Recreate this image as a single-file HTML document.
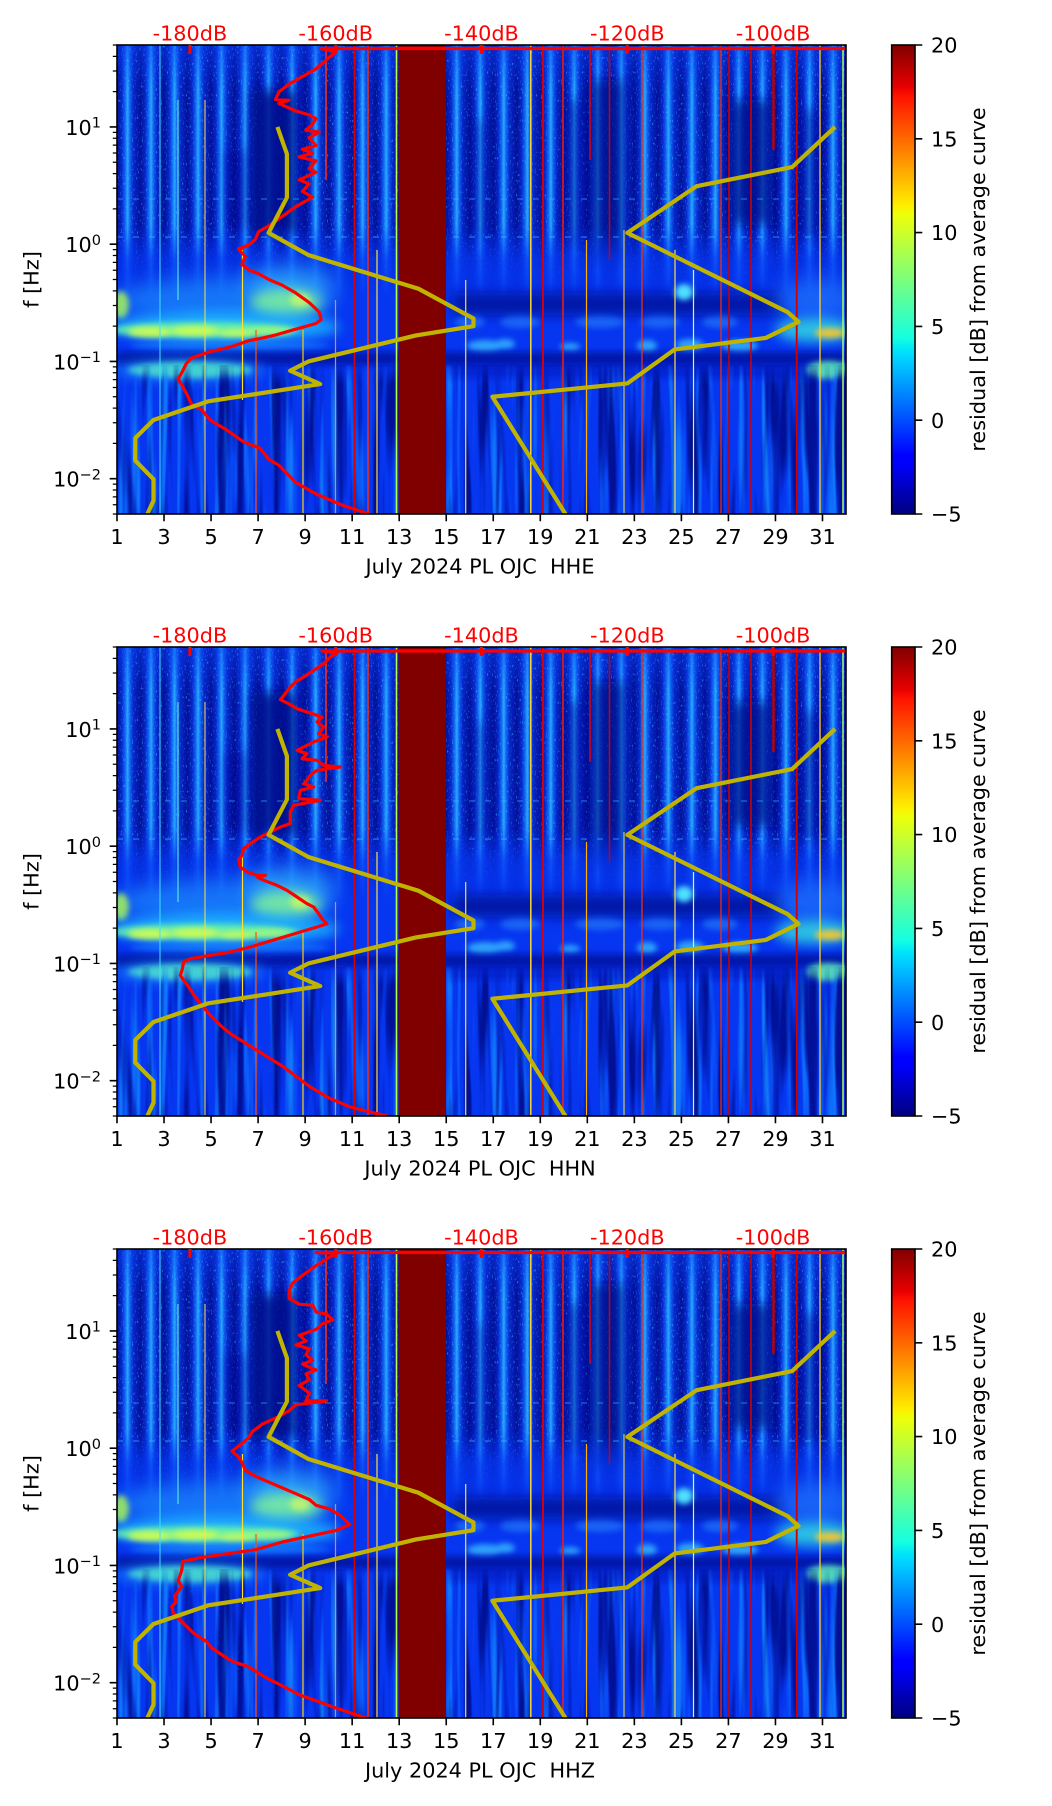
<!DOCTYPE html>
<html><head><meta charset="utf-8">
<style>
html,body{margin:0;padding:0;background:#fff;}
svg{display:block;}
text{font-family:"DejaVu Sans","Liberation Sans",sans-serif;}
</style></head>
<body>
<svg xmlns="http://www.w3.org/2000/svg" xmlns:xlink="http://www.w3.org/1999/xlink" width="1052" height="1806" viewBox="0 0 1052 1806">
<defs>
  <clipPath id="pc"><rect x="117" y="45" width="729" height="469"/></clipPath>
  <linearGradient id="jet" x1="0" y1="1" x2="0" y2="0">
    <stop offset="0" stop-color="#000080"/>
    <stop offset="0.11" stop-color="#0000ff"/>
    <stop offset="0.125" stop-color="#0000ff"/>
    <stop offset="0.34" stop-color="#00dbff"/>
    <stop offset="0.35" stop-color="#00e5f8"/>
    <stop offset="0.375" stop-color="#14ffe2"/>
    <stop offset="0.64" stop-color="#eeff08"/>
    <stop offset="0.66" stop-color="#ffec00"/>
    <stop offset="0.89" stop-color="#ff1300"/>
    <stop offset="0.91" stop-color="#e80000"/>
    <stop offset="1" stop-color="#800000"/>
  </linearGradient>
  <linearGradient id="sg" x1="0" y1="0" x2="1" y2="0">
    <stop offset="0" stop-color="#03109a"/>
    <stop offset="0.2" stop-color="#0626c8"/>
    <stop offset="0.34" stop-color="#1260f2"/>
    <stop offset="0.45" stop-color="#28a8ff"/>
    <stop offset="0.55" stop-color="#1260f2"/>
    <stop offset="0.7" stop-color="#0626c8"/>
    <stop offset="1" stop-color="#03109a"/>
  </linearGradient>
  <pattern id="days" patternUnits="userSpaceOnUse" x="117" y="0" width="23.516" height="600">
    <rect width="23.516" height="600" fill="url(#sg)"/>
  </pattern>
  <linearGradient id="tf" x1="0" y1="0" x2="0" y2="1">
    <stop offset="0" stop-color="#0a3cf0" stop-opacity="0.5"/>
    <stop offset="1" stop-color="#0a3cf0" stop-opacity="0"/>
  </linearGradient>
  <linearGradient id="mf" x1="0" y1="0" x2="0" y2="1">
    <stop offset="0" stop-color="#0636f0" stop-opacity="0"/>
    <stop offset="0.45" stop-color="#0636f0" stop-opacity="0.75"/>
    <stop offset="1" stop-color="#0636f0" stop-opacity="1"/>
  </linearGradient>
  <linearGradient id="lmg" x1="0" y1="0" x2="0" y2="1">
    <stop offset="0" stop-color="#fff" stop-opacity="0"/>
    <stop offset="0.15" stop-color="#fff" stop-opacity="1"/>
    <stop offset="1" stop-color="#fff" stop-opacity="1"/>
  </linearGradient>
  <mask id="lm" maskUnits="userSpaceOnUse" x="117" y="360" width="729" height="160">
    <rect x="117" y="360" width="729" height="160" fill="url(#lmg)"/>
  </mask>
  <filter id="b3" filterUnits="userSpaceOnUse" x="90" y="20" width="800" height="520"><feGaussianBlur stdDeviation="3"/></filter>
  <filter id="b6" filterUnits="userSpaceOnUse" x="90" y="20" width="800" height="520"><feGaussianBlur stdDeviation="6"/></filter>
  <filter id="b10" filterUnits="userSpaceOnUse" x="90" y="20" width="800" height="520"><feGaussianBlur stdDeviation="10"/></filter>
  <filter id="spk" x="0" y="0" width="1" height="1" color-interpolation-filters="sRGB">
    <feTurbulence type="fractalNoise" baseFrequency="0.8 0.35" numOctaves="1" seed="7"/>
    <feColorMatrix type="matrix" values="0 0 0 0 0.2  0 0 0 0 0.85  0 0 0 0 1  6 0 0 0 -3.6"/>
  </filter>
  <filter id="strk" x="0" y="0" width="1" height="1" color-interpolation-filters="sRGB">
    <feTurbulence type="fractalNoise" baseFrequency="0.13 0.005" numOctaves="2" seed="3"/>
    <feColorMatrix type="matrix" values="0 0 0 0 0.08  0 0 0 0 0.55  0 0 0 0 1  4 0 0 0 -2.0"/>
  </filter>
  <filter id="dstrk" x="0" y="0" width="1" height="1" color-interpolation-filters="sRGB">
    <feTurbulence type="fractalNoise" baseFrequency="0.11 0.006" numOctaves="2" seed="11"/>
    <feColorMatrix type="matrix" values="0 0 0 0 0  0 0 0 0 0.03  0 0 0 0 0.5  0 4.5 0 0 -2.2"/>
  </filter>

  <g id="spec">
    <g clip-path="url(#pc)">
      <rect x="117" y="45" width="729" height="469" fill="#0636f0"/>
      <rect x="117" y="45" width="729" height="250" fill="url(#days)"/>
      <rect x="117" y="45" width="729" height="45" fill="url(#tf)"/>
      <rect x="117" y="45" width="729" height="230" fill="#000" filter="url(#spk)" opacity="0.5"/>
      <g filter="url(#b6)" fill="#000a8c">
        <rect x="252" y="90" width="46" height="145" opacity="0.85"/>
        <rect x="225" y="150" width="22" height="80" opacity="0.4"/>
        <rect x="590" y="80" width="36" height="185" opacity="0.7"/>
        <rect x="565" y="100" width="18" height="150" opacity="0.45"/>
        <rect x="728" y="100" width="45" height="125" opacity="0.75"/>
        <rect x="800" y="110" width="22" height="130" opacity="0.45"/>
        <rect x="470" y="120" width="20" height="120" opacity="0.3"/>
      </g>
      <rect x="117" y="225" width="729" height="75" fill="url(#mf)"/>
      <g stroke-dasharray="6 10" stroke-width="1.2" opacity="0.5">
        <line x1="117" y1="237" x2="846" y2="237" stroke="#40d0ff"/>
        <line x1="117" y1="199" x2="846" y2="199" stroke="#30c0ff"/>
      </g>
      <!-- mid haze -->
      <ellipse cx="225" cy="300" rx="110" ry="22" fill="#28b4ff" opacity="0.5" filter="url(#b10)"/>
      <ellipse cx="290" cy="285" rx="45" ry="20" fill="#40d8ff" opacity="0.5" filter="url(#b10)"/>
      <ellipse cx="286" cy="303" rx="36" ry="14" fill="#8cff8c" opacity="0.75" filter="url(#b6)"/>
      <ellipse cx="300" cy="300" rx="10" ry="7" fill="#e8ff50" opacity="0.6" filter="url(#b3)"/>
      <ellipse cx="121" cy="305" rx="8" ry="14" fill="#b0ff50" opacity="0.8" filter="url(#b3)"/>
      <rect x="452" y="293" width="330" height="22" fill="#00088c" opacity="0.75" filter="url(#b6)"/>
      <ellipse cx="684" cy="292" rx="9" ry="8" fill="#50e0ff" filter="url(#b3)"/>
      <ellipse cx="815" cy="300" rx="40" ry="22" fill="#2a90ff" opacity="0.5" filter="url(#b10)"/>
      <!-- bright band -->
      <ellipse cx="225" cy="327" rx="115" ry="16" fill="#22c8ff" opacity="0.75" filter="url(#b6)"/>
      <ellipse cx="205" cy="330" rx="95" ry="8" fill="#70ffa0" opacity="0.8" filter="url(#b3)"/>
      <ellipse cx="150" cy="332" rx="22" ry="5" fill="#e4ff40" opacity="0.8" filter="url(#b3)"/>
      <ellipse cx="195" cy="331" rx="25" ry="5" fill="#e4ff40" opacity="0.8" filter="url(#b3)"/>
      <ellipse cx="236" cy="333" rx="18" ry="4" fill="#e4ff40" opacity="0.7" filter="url(#b3)"/>
      <ellipse cx="270" cy="331" rx="22" ry="4" fill="#d0ff50" opacity="0.55" filter="url(#b3)"/>
      <ellipse cx="815" cy="330" rx="40" ry="12" fill="#30d8e0" opacity="0.85" filter="url(#b6)"/>
      <ellipse cx="830" cy="333" rx="15" ry="5" fill="#ffc828" opacity="0.9" filter="url(#b3)"/>
      <g fill="#2a8cff" opacity="0.55" filter="url(#b3)">
        <ellipse cx="470" cy="322" rx="15" ry="6"/>
        <ellipse cx="520" cy="322" rx="20" ry="6"/>
        <ellipse cx="600" cy="322" rx="25" ry="6"/>
        <ellipse cx="660" cy="322" rx="20" ry="6"/>
        <ellipse cx="720" cy="322" rx="18" ry="6"/>
      </g>
      <g fill="#3cc8ff" opacity="0.75" filter="url(#b3)">
        <ellipse cx="485" cy="346" rx="18" ry="6"/>
        <ellipse cx="505" cy="344" rx="10" ry="5"/>
        <ellipse cx="647" cy="346" rx="10" ry="6"/>
        <ellipse cx="690" cy="345" rx="14" ry="6"/>
        <ellipse cx="740" cy="346" rx="18" ry="6"/>
        <ellipse cx="570" cy="347" rx="10" ry="4"/>
      </g>
      <ellipse cx="230" cy="346" rx="100" ry="6" fill="#1e90ff" opacity="0.5" filter="url(#b3)"/>
      <rect x="117" y="352" width="729" height="13" fill="#000890" opacity="0.7" filter="url(#b3)"/>
      <ellipse cx="190" cy="370" rx="75" ry="12" fill="#20a8ff" opacity="0.55" filter="url(#b6)"/>
      <ellipse cx="190" cy="370" rx="62" ry="8" fill="#50e8c8" opacity="0.8" filter="url(#b3)"/>
      <ellipse cx="828" cy="370" rx="22" ry="9" fill="#60f0b0" opacity="0.85" filter="url(#b3)"/>
      <rect x="452" y="362" width="350" height="16" fill="#0010a8" opacity="0.4" filter="url(#b3)"/>
      <!-- lower streaks -->
      <g mask="url(#lm)">
        <rect x="117" y="365" width="729" height="149" fill="#000" filter="url(#strk)" opacity="0.75"/>
        <rect x="117" y="365" width="729" height="149" fill="#000" filter="url(#dstrk)" opacity="0.8"/>
      </g>
      <!-- spikes -->
      <g fill="none">
        <line x1="326" y1="45" x2="326" y2="180" stroke="#ff3010" stroke-width="1.5"/>
        <line x1="354.5" y1="45" x2="354.5" y2="514" stroke="#d80000" stroke-width="1.6"/>
        <line x1="368" y1="45" x2="368" y2="514" stroke="#ff2a00" stroke-width="1.5"/>
        <line x1="242.5" y1="250" x2="242.5" y2="400" stroke="#ffe030" stroke-width="1.2"/>
        <line x1="256" y1="330" x2="256" y2="514" stroke="#ff5000" stroke-width="1.2"/>
        <line x1="303" y1="330" x2="303" y2="514" stroke="#ffd000" stroke-width="1.2"/>
        <line x1="335.5" y1="300" x2="335.5" y2="514" stroke="#ff8c00" stroke-width="1.2"/>
        <line x1="377" y1="250" x2="377" y2="514" stroke="#ffe040" stroke-width="1.2"/>
        <line x1="396.5" y1="45" x2="396.5" y2="514" stroke="#b0ff50" stroke-width="1.6"/>
        <line x1="465.7" y1="280" x2="465.7" y2="514" stroke="#ffe040" stroke-width="1.2"/>
        <line x1="530.8" y1="45" x2="530.8" y2="514" stroke="#ffd830" stroke-width="1.5"/>
        <line x1="543" y1="45" x2="543" y2="514" stroke="#e00000" stroke-width="1.8"/>
        <line x1="563" y1="45" x2="563" y2="514" stroke="#ff1a00" stroke-width="1.5"/>
        <line x1="586.5" y1="240" x2="586.5" y2="514" stroke="#ffb000" stroke-width="1.2"/>
        <line x1="590" y1="45" x2="590" y2="160" stroke="#e00000" stroke-width="1.5"/>
        <line x1="609.5" y1="45" x2="609.5" y2="260" stroke="#d00000" stroke-width="1.5"/>
        <line x1="624" y1="230" x2="624" y2="514" stroke="#ffe040" stroke-width="1"/>
        <line x1="642" y1="45" x2="642" y2="514" stroke="#ff3000" stroke-width="1.2"/>
        <line x1="675" y1="250" x2="675" y2="514" stroke="#ffe040" stroke-width="1.2"/>
        <line x1="693.5" y1="270" x2="693.5" y2="514" stroke="#f0ff40" stroke-width="1.2"/>
        <line x1="721" y1="45" x2="721" y2="514" stroke="#ff3000" stroke-width="1.2"/>
        <line x1="729" y1="45" x2="729" y2="514" stroke="#c80000" stroke-width="1.6"/>
        <line x1="751" y1="45" x2="751" y2="514" stroke="#d00000" stroke-width="1.6"/>
        <line x1="773.5" y1="45" x2="773.5" y2="150" stroke="#c00000" stroke-width="2.5"/>
        <line x1="796.7" y1="45" x2="796.7" y2="514" stroke="#d00000" stroke-width="1.8"/>
        <line x1="820" y1="45" x2="820" y2="514" stroke="#ffd020" stroke-width="1.3"/>
        <line x1="843" y1="45" x2="843" y2="514" stroke="#b0ff60" stroke-width="1.5"/>
        <line x1="205" y1="100" x2="205" y2="514" stroke="#ffe040" stroke-width="1"/>
        <line x1="178" y1="100" x2="178" y2="300" stroke="#60ffd0" stroke-width="1"/>
        <line x1="160" y1="45" x2="160" y2="514" stroke="#40e0ff" stroke-width="1"/>
      </g>
      <!-- data gap -->
      <rect x="398.6" y="45" width="47.4" height="469" fill="#800000"/>
    </g>
  </g>

  <g id="models">
    <g clip-path="url(#pc)" fill="none" stroke="#c0b400" stroke-width="4.2" stroke-linejoin="round">
      <path d="M277.4 126.95 L286.9 153.98 L286.9 197.55 L268.6 232.84 L308.7 255.16 L418.5 288.78 L473.5 318.48 L473.5 326.16 L415.9 335.44 L308.4 361.45 L290.1 370.73 L320.2 384.09 L208.1 401.36 L153.5 420.03 L135.3 438.03 L135.2 460.53 L153.5 479.2 L153.5 500.68 L147.3 514 L145.5 518"/>
      <path d="M835.1 126.95 L792.1 167.1 L696.6 186.18 L627.3 232.84 L787.7 312.18 L798.6 321.91 L765.8 337.93 L674.7 349.45 L627.3 383.44 L492.4 396.75 L565.4 514 L568 518"/>
    </g>
  </g>

  <g id="frame">
    <rect x="117" y="45" width="729" height="469" fill="none" stroke="#000" stroke-width="1.6"/>
    <path d="M189.9 45v9M335.7 45v9M481.5 45v9M627.3 45v9M773.1 45v9" stroke="#ff0000" stroke-width="3"/>
    <g font-size="20.8" fill="#ff0000" text-anchor="middle">
      <text x="189.9" y="40.7">-180dB</text>
      <text x="335.7" y="40.7">-160dB</text>
      <text x="481.5" y="40.7">-140dB</text>
      <text x="627.3" y="40.7">-120dB</text>
      <text x="773.1" y="40.7">-100dB</text>
    </g>
    <path d="M117 514v7.3M164.03 514v7.3M211.06 514v7.3M258.1 514v7.3M305.13 514v7.3M352.16 514v7.3M399.19 514v7.3M446.23 514v7.3M493.26 514v7.3M540.29 514v7.3M587.32 514v7.3M634.35 514v7.3M681.39 514v7.3M728.42 514v7.3M775.45 514v7.3M822.48 514v7.3" stroke="#000" stroke-width="1.6"/>
    <g font-size="20.8" fill="#000" text-anchor="middle">
      <text x="117" y="544">1</text>
      <text x="164.03" y="544">3</text>
      <text x="211.06" y="544">5</text>
      <text x="258.1" y="544">7</text>
      <text x="305.13" y="544">9</text>
      <text x="352.16" y="544">11</text>
      <text x="399.19" y="544">13</text>
      <text x="446.23" y="544">15</text>
      <text x="493.26" y="544">17</text>
      <text x="540.29" y="544">19</text>
      <text x="587.32" y="544">21</text>
      <text x="634.35" y="544">23</text>
      <text x="681.39" y="544">25</text>
      <text x="728.42" y="544">27</text>
      <text x="775.45" y="544">29</text>
      <text x="822.48" y="544">31</text>
    </g>
    <path d="M109.7 126.95h7.3M109.7 244.2h7.3M109.7 361.45h7.3M109.7 478.7h7.3" stroke="#000" stroke-width="1.6"/>
    <path d="M112.8 45h4.2M112.8 56.36h4.2M112.8 71.01h4.2M112.8 91.65h4.2M112.8 132.32h4.2M112.8 138.31h4.2M112.8 145.11h4.2M112.8 152.96h4.2M112.8 162.25h4.2M112.8 173.61h4.2M112.8 188.26h4.2M112.8 208.9h4.2M112.8 249.57h4.2M112.8 255.56h4.2M112.8 262.36h4.2M112.8 270.21h4.2M112.8 279.5h4.2M112.8 290.86h4.2M112.8 305.51h4.2M112.8 326.15h4.2M112.8 366.82h4.2M112.8 372.81h4.2M112.8 379.61h4.2M112.8 387.46h4.2M112.8 396.75h4.2M112.8 408.11h4.2M112.8 422.76h4.2M112.8 443.4h4.2M112.8 484.07h4.2M112.8 490.06h4.2M112.8 496.86h4.2M112.8 504.71h4.2M112.8 514h4.2" stroke="#000" stroke-width="1.25"/>
    <g font-size="20.8" fill="#000" text-anchor="end">
      <text x="101" y="134.95">10<tspan font-size="14.5" dy="-7.3">1</tspan></text>
      <text x="101" y="252.2">10<tspan font-size="14.5" dy="-7.3">0</tspan></text>
      <text x="101" y="369.45">10<tspan font-size="14.5" dy="-7.3">−1</tspan></text>
      <text x="101" y="486.7">10<tspan font-size="14.5" dy="-7.3">−2</tspan></text>
    </g>
    <text font-size="20.8" fill="#000" text-anchor="middle" transform="translate(38.5,279.5) rotate(-90)">f [Hz]</text>
    <rect x="891.7" y="45" width="23.3" height="469" fill="url(#jet)" stroke="#000" stroke-width="1.6"/>
    <path d="M915 45h7.3M915 138.8h7.3M915 232.6h7.3M915 326.4h7.3M915 420.2h7.3M915 514h7.3" stroke="#000" stroke-width="1.6"/>
    <g font-size="20.8" fill="#000">
      <text x="931" y="52.6">20</text>
      <text x="931" y="146.4">15</text>
      <text x="931" y="240.2">10</text>
      <text x="931" y="334">5</text>
      <text x="931" y="427.8">0</text>
      <text x="931" y="521.6">−5</text>
    </g>
    <text font-size="20.8" fill="#000" text-anchor="middle" transform="translate(985,279.5) rotate(-90)">residual [dB] from average curve</text>
  </g>
</defs>

<rect x="0" y="0" width="1052" height="1806" fill="#fff"/>

<!-- Panel 1 -->
<use href="#spec" xlink:href="#spec"/>
<g clip-path="url(#pc)">
  <path fill="none" stroke="#ff0000" stroke-width="3.2" stroke-linejoin="round" d="M850 48.5 L321 48.5 L336 51.7 L329.3 57.4 L315.9 68.9 L302.4 76.6 L289 84.2 L278.9 91.9 L275.5 99.5 L289 100.3 L278.9 103.4 L295.7 111 L309.1 114.9 L315.9 118.7 L312.5 124.4 L305.8 130.2 L319.2 132.1 L309.1 137.8 L315.9 145.5 L302.4 149.3 L312.5 153.1 L299.1 157 L315.9 160.8 L309.1 168.5 L315.9 172.3 L299.1 179.9 L309.1 183.8 L302.4 191.4 L312.5 197.2 L305.8 201 L295.7 206.7 L282.3 216.3 L268.8 225.9 L258.7 231.6 L255.4 239.3 L248.7 245 L238.6 248.9 L245.3 256.5 L241.9 264.2 L248.7 269.9 L258.7 273.7 L268.8 279.5 L282.3 285.2 L295.7 292.9 L309.1 302.5 L319.2 312 L321.2 319.7 L315.9 323.5 L295.7 329.2 L275.5 335 L258.7 338.8 L248.7 340.7 L231.9 346.5 L208.3 352.2 L191.5 358 L186.2 363.7 L181.5 373.3 L178.1 379 L182.8 386.7 L186.8 394.3 L191.5 403.9 L201.6 409.6 L210 420 L226.7 430 L243.3 441.7 L260 448.3 L268.8 459.4 L278.9 465.2 L295.7 482.4 L315.9 493.9 L342.7 505.4 L366.3 513 L380 518"/>
</g>
<use href="#models" xlink:href="#models"/>
<use href="#frame" xlink:href="#frame"/>
<text x="480" y="573.3" font-size="20.8" fill="#000" text-anchor="middle">July 2024 PL OJC &#160;HHE</text>

<!-- Panel 2 -->
<g transform="translate(0,602)">
  <use href="#spec" xlink:href="#spec"/>
  <g clip-path="url(#pc)">
    <path fill="none" stroke="#ff0000" stroke-width="3.2" stroke-linejoin="round" d="M850 49 L322 49 L337 51 L330.3 55 L323.7 61.7 L313.7 68.3 L303.7 75 L295.3 80 L288.7 86.7 L285.3 91.7 L280.3 97.7 L288.7 101.7 L297 106.7 L307 110 L317 113.3 L322 115 L317 120 L323.7 125 L318.7 131.7 L327 135 L313.7 140 L303.7 145 L297 148.3 L307 151.7 L302 156.7 L317 158.3 L323.7 163.3 L340.3 165 L317 168.3 L310.3 173.3 L307 178.3 L303.7 181.7 L313.7 185 L300.3 188.3 L298.7 196.7 L320.3 198.3 L293.7 203.3 L290.3 210 L290.3 221.7 L280.3 225 L270.3 230 L260.3 235 L250.3 241.7 L243.7 246.7 L242 253.3 L238.7 258.3 L240.3 265 L247 270 L257 273.3 L265.3 273.3 L257 275 L263.7 278.3 L277 283.3 L287 288.3 L297 295 L307 301.7 L313.7 305 L318.7 311.7 L322 316.7 L327 321.7 L317 325 L300.3 330 L283.7 335 L267 340 L250.3 345 L230.3 350 L210.3 353.3 L190.3 356.7 L183.7 360 L182 368.3 L180.3 373.3 L183.7 378.3 L188.7 385 L195.3 395 L202 403.3 L210.3 413.3 L220.3 423.3 L230.3 431.7 L243.7 440 L257 448.3 L270.3 456.7 L283.7 465 L297 475 L310.3 485 L330.3 496.7 L350.3 505 L377 511.7 L395 516"/>
  </g>
  <use href="#models" xlink:href="#models"/>
  <use href="#frame" xlink:href="#frame"/>
  <text x="480" y="573.3" font-size="20.8" fill="#000" text-anchor="middle">July 2024 PL OJC &#160;HHN</text>
</g>

<!-- Panel 3 -->
<g transform="translate(0,1204)">
  <use href="#spec" xlink:href="#spec"/>
  <g clip-path="url(#pc)">
    <path fill="none" stroke="#ff0000" stroke-width="3.2" stroke-linejoin="round" d="M850 48.5 L316 48.5 L336.2 49.3 L329.5 53.2 L316.1 61.7 L302.6 71.3 L292.5 79.1 L289.2 86.8 L289.2 94.5 L299.3 100.3 L312.7 101.1 L316.1 108.1 L326.2 110 L332.9 115.8 L322.8 119.6 L316.1 125.4 L299.3 131.2 L306 137 L295.9 140.9 L309.3 144.8 L306 150.6 L312.7 156.4 L302.6 160.2 L316.1 166 L306 169.9 L309.3 175.7 L299.3 181.5 L309.3 189.2 L306 196.9 L326.2 196.9 L295.9 200.8 L289.2 206.6 L279.1 212.4 L262.3 220.1 L252.2 227.8 L248.8 233.6 L242.1 239.4 L232 247.2 L238.7 253 L242.1 258.8 L245.5 266.5 L255.5 272.3 L269 278.1 L282.4 283.9 L295.9 289.7 L309.3 295.5 L316.1 301.3 L329.5 305.1 L339.6 310.9 L349.7 320.6 L336.2 326.4 L309.3 332.2 L282.4 338 L255.5 345.7 L228.6 349.6 L201.7 353.4 L182.9 357.3 L181.6 366.9 L178.2 376.6 L181.6 382.4 L174.8 392.1 L176.2 397.9 L171.7 402.7 L173.3 409 L180 416 L193.3 429 L206.7 437.7 L211.7 444 L226.7 454 L233.3 457.7 L248.3 462.7 L266.7 474 L276.7 479 L300 491 L336 504 L363 513 L380 518"/>
  </g>
  <use href="#models" xlink:href="#models"/>
  <use href="#frame" xlink:href="#frame"/>
  <text x="480" y="573.3" font-size="20.8" fill="#000" text-anchor="middle">July 2024 PL OJC &#160;HHZ</text>
</g>
</svg>
</body></html>
